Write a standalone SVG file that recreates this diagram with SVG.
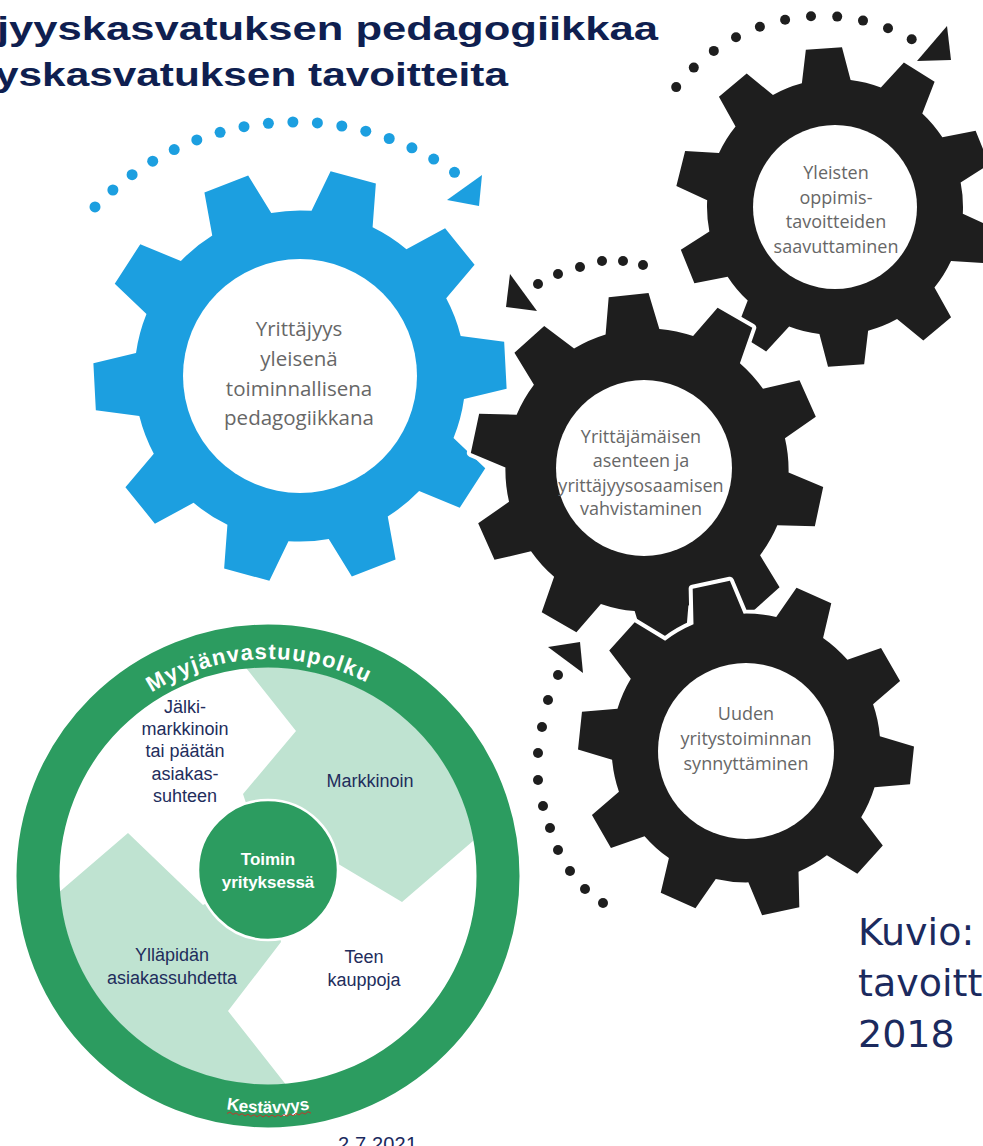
<svg xmlns="http://www.w3.org/2000/svg" xmlns:xlink="http://www.w3.org/1999/xlink" width="983" height="1146" viewBox="0 0 983 1146">
<style>
  .title{font-family:"Liberation Sans",Arial,sans-serif;font-weight:bold;font-size:33px;fill:#0f1f50}
  .gtext{font-family:"Open Sans","Noto Sans",sans-serif;fill:#676767;text-anchor:middle}
  .halo{fill:#fff;stroke:#fff;stroke-linejoin:round}
  .blue{fill:#1c9fe0}
  .black{fill:#1e1e1e}
  .bdot{fill:#1c9fe0}
  .kdot{fill:#1e1e1e}
  .lbl{font-family:"Liberation Sans",Arial,sans-serif;font-size:18px;fill:#222d5c;text-anchor:middle}
  .wb{font-family:"Liberation Sans",Arial,sans-serif;font-weight:bold;fill:#fff;text-anchor:middle}
  .cap{font-family:"DejaVu Sans","Liberation Sans",sans-serif;font-size:38px;fill:#1b2a5e}
</style>
<defs>
  <path id="gear" d="M78.53,-15.26 L99.36,-11.32 L99.36,11.32 L78.53,15.26 A80,80 0 0 1 72.50,33.81 L87.04,49.24 L73.73,67.56 L54.56,58.51 A80,80 0 0 1 38.78,69.97 L41.47,91.00 L19.94,97.99 L9.75,79.40 A80,80 0 0 1 -9.75,79.40 L-19.94,97.99 L-41.47,91.00 L-38.78,69.97 A80,80 0 0 1 -54.56,58.51 L-73.73,67.56 L-87.04,49.24 L-72.50,33.81 A80,80 0 0 1 -78.53,15.26 L-99.36,11.32 L-99.36,-11.32 L-78.53,-15.26 A80,80 0 0 1 -72.50,-33.81 L-87.04,-49.24 L-73.73,-67.56 L-54.56,-58.51 A80,80 0 0 1 -38.78,-69.97 L-41.47,-91.00 L-19.94,-97.99 L-9.75,-79.40 A80,80 0 0 1 9.75,-79.40 L19.94,-97.99 L41.47,-91.00 L38.78,-69.97 A80,80 0 0 1 54.56,-58.51 L73.73,-67.56 L87.04,-49.24 L72.50,-33.81 A80,80 0 0 1 78.53,-15.26 Z"/>
  <clipPath id="innerClip"><circle cx="268" cy="876" r="209"/></clipPath>
  <path id="arcTop" d="M51,876 A217,217 0 0 1 485,876"/>
  <path id="arcBottom" d="M31,876 A237,237 0 0 0 505,876"/>
</defs>

<g id="title">
  <text class="title" x="-3" y="40" textLength="661" lengthAdjust="spacingAndGlyphs">jyyskasvatuksen pedagogiikkaa</text>
  <text class="title" x="-5" y="86" textLength="513" lengthAdjust="spacingAndGlyphs">yskasvatuksen tavoitteita</text>
</g>

<g id="gear-pedagogiikka">
  <g transform="translate(300,376) rotate(-3) scale(2.07)">
    <use href="#gear" class="halo" style="stroke-width:3.9"/>
    <use href="#gear" class="blue"/>
  </g>
  <circle cx="300" cy="376" r="117" fill="#fff"/>
  <text class="gtext" font-size="20.5"><tspan x="299" y="336">Yrittäjyys</tspan><tspan x="299" y="366">yleisenä</tspan><tspan x="299" y="396">toiminnallisena</tspan><tspan x="299" y="425">pedagogiikkana</tspan></text>
</g>

<g id="gear-oppimistavoitteet">
  <g transform="translate(835,207) rotate(14) scale(1.6)">
    <use href="#gear" class="halo" style="stroke-width:5"/>
    <use href="#gear" class="black"/>
  </g>
  <circle cx="835" cy="207" r="82" fill="#fff"/>
  <text class="gtext" font-size="18"><tspan x="836" y="179">Yleisten</tspan><tspan x="836" y="204">oppimis-</tspan><tspan x="836" y="228">tavoitteiden</tspan><tspan x="836" y="253">saavuttaminen</tspan></text>
</g>

<g id="gear-asenne">
  <g transform="translate(647,470) rotate(12) scale(1.77)">
    <use href="#gear" class="halo" style="stroke-width:4.5"/>
    <use href="#gear" class="black"/>
  </g>
  <circle cx="644" cy="468" r="88" fill="#fff"/>
  <text class="gtext" font-size="18"><tspan x="641" y="443">Yrittäjämäisen</tspan><tspan x="641" y="467">asenteen ja</tspan><tspan x="641" y="492">yrittäjyysosaamisen</tspan><tspan x="641" y="515">vahvistaminen</tspan></text>
</g>

<g id="gear-yritystoiminta">
  <g transform="translate(746,748) rotate(6) scale(1.68)">
    <use href="#gear" class="halo" style="stroke-width:4.8"/>
    <use href="#gear" class="black"/>
  </g>
  <circle cx="746" cy="751" r="88" fill="#fff"/>
  <text class="gtext" font-size="18"><tspan x="746" y="720">Uuden</tspan><tspan x="746" y="745">yritystoiminnan</tspan><tspan x="746" y="770">synnyttäminen</tspan></text>
</g>

<g id="connectors">
  <g class="bdot">
    <circle cx="95.0" cy="206.9" r="5.5"/><circle cx="112.9" cy="190.0" r="5.5"/><circle cx="132.1" cy="174.7" r="5.5"/>
    <circle cx="152.7" cy="161.2" r="5.5"/><circle cx="174.2" cy="149.6" r="5.5"/><circle cx="196.8" cy="139.9" r="5.5"/>
    <circle cx="220.1" cy="132.3" r="5.5"/><circle cx="244.0" cy="126.7" r="5.5"/><circle cx="268.4" cy="123.3" r="5.5"/>
    <circle cx="292.9" cy="122.0" r="5.5"/><circle cx="317.4" cy="122.9" r="5.5"/><circle cx="341.8" cy="126.0" r="5.5"/>
    <circle cx="365.8" cy="131.2" r="5.5"/><circle cx="389.2" cy="138.5" r="5.5"/><circle cx="411.9" cy="147.8" r="5.5"/>
    <circle cx="433.7" cy="159.1" r="5.5"/><circle cx="454.5" cy="172.3" r="5.5"/>
    <polygon points="482,175 447,200 479,206"/>
  </g>
  <g class="kdot">
    <circle cx="676.2" cy="87.1" r="5"/><circle cx="693.8" cy="67.6" r="5"/><circle cx="713.8" cy="50.9" r="5"/>
    <circle cx="736.0" cy="37.2" r="5"/><circle cx="759.9" cy="26.7" r="5"/><circle cx="785.1" cy="19.7" r="5"/>
    <circle cx="811.0" cy="16.3" r="5"/><circle cx="837.2" cy="16.6" r="5"/><circle cx="863.0" cy="20.6" r="5"/>
    <circle cx="888.0" cy="28.2" r="5"/><circle cx="911.7" cy="39.2" r="5"/>
    <polygon points="947,26 917,61 951,60"/>
  </g>
  <g class="kdot">
    <circle cx="643" cy="265" r="5"/><circle cx="623" cy="261" r="5"/><circle cx="602" cy="261" r="5"/>
    <circle cx="580" cy="267" r="5"/><circle cx="558" cy="274" r="5"/><circle cx="538" cy="284" r="5"/>
    <polygon points="510,274 506,307 537,311"/>
  </g>
  <g class="kdot">
    <circle cx="558" cy="675" r="5"/><circle cx="548" cy="700" r="5"/><circle cx="542" cy="727" r="5"/>
    <circle cx="538" cy="753" r="5"/><circle cx="538" cy="780" r="5"/><circle cx="543" cy="806" r="5"/>
    <circle cx="550" cy="828" r="5"/><circle cx="558" cy="850" r="5"/><circle cx="570" cy="871" r="5"/>
    <circle cx="585" cy="889" r="5"/><circle cx="603" cy="903" r="5"/>
    <polygon points="548,647 580,642 583,673"/>
  </g>
</g>

<g id="myyjanvastuupolku">
  <circle cx="268" cy="876" r="209" fill="#fff"/>
  <g clip-path="url(#innerClip)" fill="#bfe3d1">
    <polygon points="190,597 296,731 243,794 268,870 335,862 402,902 473,841 560,766 560,560 190,560"/>
    <polygon points="0,943 128,833 203,905 268,870 281,942 228,1011 287,1086 330,1141 0,1141"/>
  </g>
  <circle cx="268" cy="876" r="230" fill="none" stroke="#2c9c60" stroke-width="43"/>
  <circle cx="268" cy="870" r="70" fill="#2c9c60" stroke="#fff" stroke-width="2.5"/>
  <text class="wb" font-size="17"><tspan x="268" y="865">Toimin</tspan><tspan x="268" y="888">yrityksessä</tspan></text>
  <text class="wb" font-size="22"><textPath href="#arcTop" startOffset="48.5%" textLength="225" lengthAdjust="spacing">Myyjänvastuupolku</textPath></text>
  <text class="wb" font-size="17"><textPath href="#arcBottom" startOffset="50%">Kestävyys</textPath></text>
  <polyline points="227,1113.5 230,1112 233,1114.45 236,1112.9 239,1115.25 242,1113.6 245,1115.9 248,1114.2 251,1116.4 254,1114.6 257,1116.75 260,1114.9 263,1116.95 266,1115 269,1117 272,1114.97 275,1116.9 278,1114.8 281,1116.65 284,1114.47 287,1116.25 290,1114 293,1115.7 296,1113.37 299,1115 302,1112.6 305,1114.15 308,1111.67 311,1113.15" fill="none" stroke="#c0392b" stroke-width="1"/>
  <text class="lbl"><tspan x="185" y="713">Jälki-</tspan><tspan x="185" y="735">markkinoin</tspan><tspan x="185" y="757">tai päätän</tspan><tspan x="185" y="780">asiakas-</tspan><tspan x="185" y="802">suhteen</tspan></text>
  <text class="lbl" x="370" y="787">Markkinoin</text>
  <text class="lbl"><tspan x="364" y="963">Teen</tspan><tspan x="364" y="986">kauppoja</tspan></text>
  <text class="lbl"><tspan x="172" y="961">Ylläpidän</tspan><tspan x="172" y="984">asiakassuhdetta</tspan></text>
</g>

<g id="caption">
  <text class="cap" x="858" y="945">Kuvio:</text>
  <text class="cap" x="858" y="996">tavoitt</text>
  <text class="cap" x="858" y="1047">2018</text>
</g>

<g id="date">
  <text x="338" y="1151" font-family="Liberation Sans, Arial, sans-serif" font-size="20" fill="#1b2a5e" textLength="79">2.7.2021</text>
</g>
</svg>
